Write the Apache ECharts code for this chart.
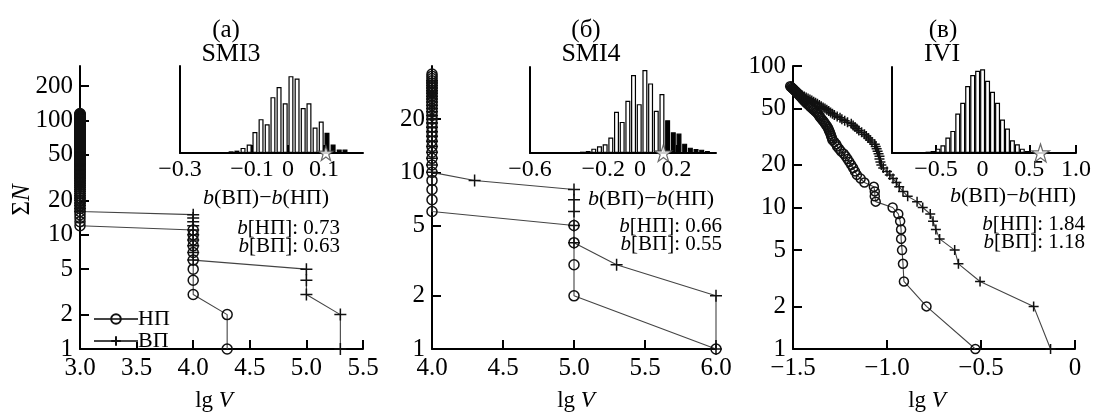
<!DOCTYPE html>
<html>
<head>
<meta charset="utf-8">
<script src="https://cdn.jsdelivr.net/npm/echarts@6/dist/echarts.min.js"></script>
<style>html,body{margin:0;padding:0;background:#fff}#chart{width:1093px;height:412px}</style>
</head>
<body>
<div id="chart"></div>
<script>
// (а) SMI3 - event sizes (lg V) by group, largest first, and number of events in each group
var a_np_lgV = [4.3, 4.0, 3.0];
var a_np_cnt = [2, 9, 104];
var a_vp_lgV = [5.3, 5.0, 4.0, 3.0];
var a_vp_cnt = [2, 3, 10, 95];

// (б) SMI4
var b_np_lgV = [6.0, 5.0, 4.0];
var b_np_cnt = [1, 4, 31];
var b_vp_lgV = [6.0, 5.3, 5.0, 4.3, 4.0];
var b_vp_cnt = [2, 1, 5, 1, 24];

// (в) IVI - lg V of each event, ranked from largest
var c_np_lgV = [-0.53, -0.79, -0.91, -0.915, -0.92, -0.925, -0.925, -0.93, -0.94, -0.97,
  -1.06, -1.065, -1.065, -1.07, -1.12, -1.14, -1.16, -1.17, -1.18, -1.19,
  -1.2, -1.21, -1.22, -1.23, -1.245, -1.255, -1.265, -1.27, -1.28, -1.29,
  -1.293, -1.297, -1.3, -1.304, -1.308, -1.312, -1.316, -1.322, -1.328, -1.334,
  -1.34, -1.347, -1.353, -1.358, -1.363, -1.368, -1.375, -1.382, -1.39, -1.397,
  -1.404, -1.41, -1.417, -1.424, -1.43, -1.436, -1.441, -1.446, -1.451, -1.456,
  -1.461, -1.466, -1.47, -1.475, -1.48, -1.485, -1.49, -1.495, -1.5, -1.505,
  -1.51, -1.515];
var c_vp_lgV = [-0.13, -0.22, -0.505, -0.62, -0.64, -0.72, -0.74, -0.755, -0.77, -0.81,
  -0.84, -0.89, -0.915, -0.935, -0.95, -0.968, -0.985, -1.0, -1.02, -1.03,
  -1.035, -1.04, -1.04, -1.045, -1.05, -1.055, -1.06, -1.065, -1.08, -1.09,
  -1.1, -1.11, -1.12, -1.135, -1.15, -1.16, -1.17, -1.18, -1.19, -1.21,
  -1.225, -1.24, -1.25, -1.265, -1.28, -1.29, -1.3, -1.31, -1.32, -1.33,
  -1.34, -1.35, -1.36, -1.37, -1.38, -1.39, -1.4, -1.41, -1.42, -1.43,
  -1.44, -1.45, -1.46, -1.47, -1.475, -1.48, -1.485, -1.49, -1.495, -1.5,
  -1.505, -1.51];

// inset histograms of b(ВП)-b(НП): bin centres, counts, observed value (star)
var a_hist_x = [-0.175, -0.158, -0.142, -0.125, -0.108, -0.092, -0.075, -0.058, -0.042, -0.025, -0.008,
  0.008, 0.025, 0.042, 0.058, 0.075, 0.092, 0.108, 0.125, 0.142, 0.158, 0.175, 0.192];
var a_hist_h = [3, 5, 7, 15, 25, 62, 100, 85, 165, 195, 147, 227, 220, 133, 147, 75, 93, 60, 25, 10, 10, 3, 3];
var a_star = 0.105;

var b_hist_x = [-0.376, -0.345, -0.314, -0.283, -0.252, -0.221, -0.19, -0.159, -0.128, -0.097, -0.066, -0.035, -0.004,
  0.027, 0.058, 0.089, 0.12, 0.151, 0.182, 0.213, 0.244, 0.275, 0.306, 0.337, 0.368, 0.399];
var b_hist_h = [3, 2, 4, 6, 13, 20, 26, 46, 123, 93, 156, 233, 146, 248, 208, 126, 176, 98, 62, 58, 28, 16, 12, 10, 6, 3];
var b_star = 0.128;

var c_hist_x = [-0.69, -0.637, -0.584, -0.531, -0.478, -0.425, -0.372, -0.319, -0.266, -0.213, -0.16, -0.106, -0.053,
  0, 0.053, 0.106, 0.16, 0.213, 0.266, 0.319, 0.372, 0.425, 0.478, 0.531];
var c_hist_h = [1, 3, 4, 6, 13, 23, 46, 66, 118, 150, 200, 233, 246, 250, 216, 183, 150, 100, 73, 38, 26, 13, 6, 3];
var c_star = 0.62;

// tick labels
var a_yticks = [1, 2, 5, 10, 20, 50, 100, 200];
var b_yticks = [1, 2, 5, 10, 20];
var c_yticks = [1, 2, 5, 10, 20, 50, 100];
var a_hticks = [-0.3, -0.1, 0, 0.1];
var b_hticks = [-0.6, -0.2, 0, 0.2];
var c_hticks = [-0.5, 0, 0.5, 1.0];

var SERIF = 'Liberation Serif';
var PLUS = 'path://M0,5L10,5M5,0L5,10';
var STAR = 'path://M50,2L61,36L97,36L68,57L79,92L50,71L21,92L32,57L3,36L39,36Z';

function cumulate(lgV, cnt) {
  var pts = [], n = 0;
  for (var i = 0; i < lgV.length; i++) {
    for (var k = 0; k < cnt[i]; k++) { n++; pts.push([lgV[i], n]); }
  }
  return pts;
}
function ranked(lgV) {
  return lgV.map(function (v, i) { return [v, i + 1]; });
}
function minus(v, d) {
  if (v === 0) return '0';
  return (v < 0 ? '\u2212' : '') + Math.abs(v).toFixed(d);
}

function curve(name, data, idx, plus, size) {
  return {
    type: 'line', name: name, data: data, xAxisIndex: idx, yAxisIndex: idx,
    symbol: plus ? PLUS : 'circle', symbolSize: size, clip: false,
    lineStyle: { color: '#444', width: 1.1 },
    itemStyle: { color: 'none', borderColor: '#111', borderWidth: 1.5 },
    emphasis: { disabled: true }, z: 3
  };
}
function hist(xs, hs, star, idx) {
  return {
    type: 'bar', xAxisIndex: idx, yAxisIndex: idx, barWidth: 5, clip: false,
    data: xs.map(function (x, k) {
      return { value: [x, hs[k]], itemStyle: x > star ? { color: '#000' } : undefined };
    }),
    itemStyle: { color: '#fff', borderColor: '#000', borderWidth: 1.2 },
    emphasis: { disabled: true }, z: 2
  };
}
function starMark(star, idx, size) {
  return {
    type: 'scatter', xAxisIndex: idx, yAxisIndex: idx, data: [[star, 0]],
    symbol: STAR, symbolSize: size, clip: false,
    itemStyle: { color: '#fff', borderColor: '#444', borderWidth: 1.2 },
    emphasis: { disabled: true }, z: 5
  };
}

var axLine = { show: true, onZero: false, lineStyle: { color: '#000', width: 2 } };
function mainX(idx, min, max, fmt) {
  return {
    type: 'value', gridIndex: idx, min: min, max: max, interval: 0.5,
    axisLine: axLine, splitLine: { show: false },
    axisTick: { inside: true, length: 9, lineStyle: { color: '#000', width: 2 } },
    axisLabel: { color: '#000', fontFamily: SERIF, fontSize: 25, margin: 7, formatter: fmt }
  };
}
function mainY(idx, max, ticks) {
  return {
    type: 'log', logBase: 10, gridIndex: idx, min: 1, max: max,
    axisLine: axLine, splitLine: { show: false }, minorTick: { show: false },
    axisTick: { inside: true, length: 9, customValues: ticks, lineStyle: { color: '#000', width: 2 } },
    axisLabel: { color: '#000', fontFamily: SERIF, fontSize: 25, margin: 7, customValues: ticks,
      formatter: function (v) { return String(Math.round(v)); } }
  };
}
function insetX(idx, min, max, ticks) {
  return {
    type: 'value', gridIndex: idx, min: min, max: max,
    axisLine: axLine, splitLine: { show: false },
    axisTick: { inside: true, length: 8, customValues: ticks, lineStyle: { color: '#000', width: 2 } },
    axisLabel: { color: '#000', fontFamily: SERIF, fontSize: 24, margin: 5, customValues: ticks,
      formatter: function (v) { return minus(v, 1); } }
  };
}
function insetY(idx) {
  return {
    type: 'value', gridIndex: idx, min: 0, max: 257,
    axisLine: axLine, splitLine: { show: false },
    axisTick: { show: false }, axisLabel: { show: false }
  };
}

function txt(x, y, text, size, align, rot) {
  return {
    type: 'text', x: x, y: y, rotation: rot || 0, z: 10,
    style: {
      text: text, fill: '#000', fontFamily: SERIF, fontSize: size,
      align: align || 'center', verticalAlign: 'middle',
      rich: {
        i: { fontFamily: SERIF, fontSize: size, fontStyle: 'italic', fill: '#000' },
        r: { fontFamily: SERIF, fontSize: size, fill: '#000' }
      }
    }
  };
}

var chart = echarts.init(document.getElementById('chart'), null, { renderer: 'canvas' });
var fmt1 = function (v) { return minus(v, 1); };

chart.setOption({
  animation: false,
  backgroundColor: '#fff',
  grid: [
    { left: 80, top: 66, width: 283, height: 283, outerBoundsMode: 'none' },
    { left: 432, top: 66, width: 284, height: 283, outerBoundsMode: 'none' },
    { left: 793, top: 66, width: 282, height: 283, outerBoundsMode: 'none' },
    { left: 180, top: 66, width: 183, height: 87, outerBoundsMode: 'none' },
    { left: 530, top: 67, width: 186, height: 86, outerBoundsMode: 'none' },
    { left: 892, top: 67, width: 184, height: 86, outerBoundsMode: 'none' }
  ],
  xAxis: [
    mainX(0, 3, 5.5, fmt1), mainX(1, 4, 6, fmt1), mainX(2, -1.5, 0, fmt1),
    insetX(3, -0.3, 0.208, a_hticks), insetX(4, -0.6, 0.415, b_hticks), insetX(5, -0.97, 1.0, c_hticks)
  ],
  yAxis: [
    mainY(0, 300, a_yticks), mainY(1, 40, b_yticks), mainY(2, 100, c_yticks),
    insetY(3), insetY(4), insetY(5)
  ],
  legend: {
    data: ['НП', 'ВП'], orient: 'vertical', left: 88, top: 303,
    itemWidth: 44, itemHeight: 12, itemGap: 0,
    textStyle: { fontFamily: SERIF, fontSize: 22, color: '#000', padding: [0, 0, 0, -5] }
  },
  series: [
    curve('НП', cumulate(a_np_lgV, a_np_cnt), 0, false, 10),
    curve('ВП', cumulate(a_vp_lgV, a_vp_cnt), 0, true, 12),
    curve('НП', cumulate(b_np_lgV, b_np_cnt), 1, false, 10),
    curve('ВП', cumulate(b_vp_lgV, b_vp_cnt), 1, true, 12),
    curve('НП', ranked(c_np_lgV), 2, false, 9),
    curve('ВП', ranked(c_vp_lgV), 2, true, 10),
    hist(a_hist_x, a_hist_h, a_star, 3), starMark(a_star, 3, 15),
    hist(b_hist_x, b_hist_h, b_star, 4), starMark(b_star, 4, 17),
    hist(c_hist_x, c_hist_h, c_star, 5), starMark(c_star, 5, 18)
  ],
  graphic: [
    txt(226, 30, '(а)', 25), txt(586, 30, '(б)', 25), txt(943, 30, '(в)', 25),
    txt(231, 54, 'SMI3', 26), txt(591, 54, 'SMI4', 26), txt(942, 54, 'IVI', 26),
    txt(22, 200, '{r|Σ}{i|N}', 25, 'center', Math.PI / 2),
    txt(214, 401, '{r|lg }{i|V}', 23), txt(576, 401, '{r|lg }{i|V}', 23), txt(927, 401, '{r|lg }{i|V}', 23),
    txt(266, 198, '{i|b}{r|(ВП)−}{i|b}{r|(НП)}', 22),
    txt(651, 199, '{i|b}{r|(ВП)−}{i|b}{r|(НП)}', 22),
    txt(1013, 196, '{i|b}{r|(ВП)−}{i|b}{r|(НП)}', 22),
    txt(340, 228, '{i|b}{r|[НП]: 0.73}', 21, 'right'),
    txt(340, 246, '{i|b}{r|[ВП]: 0.63}', 21, 'right'),
    txt(722, 226, '{i|b}{r|[НП]: 0.66}', 21, 'right'),
    txt(722, 244, '{i|b}{r|[ВП]: 0.55}', 21, 'right'),
    txt(1085, 224, '{i|b}{r|[НП]: 1.84}', 21, 'right'),
    txt(1085, 242, '{i|b}{r|[ВП]: 1.18}', 21, 'right')
  ]
});
</script>
</body>
</html>
